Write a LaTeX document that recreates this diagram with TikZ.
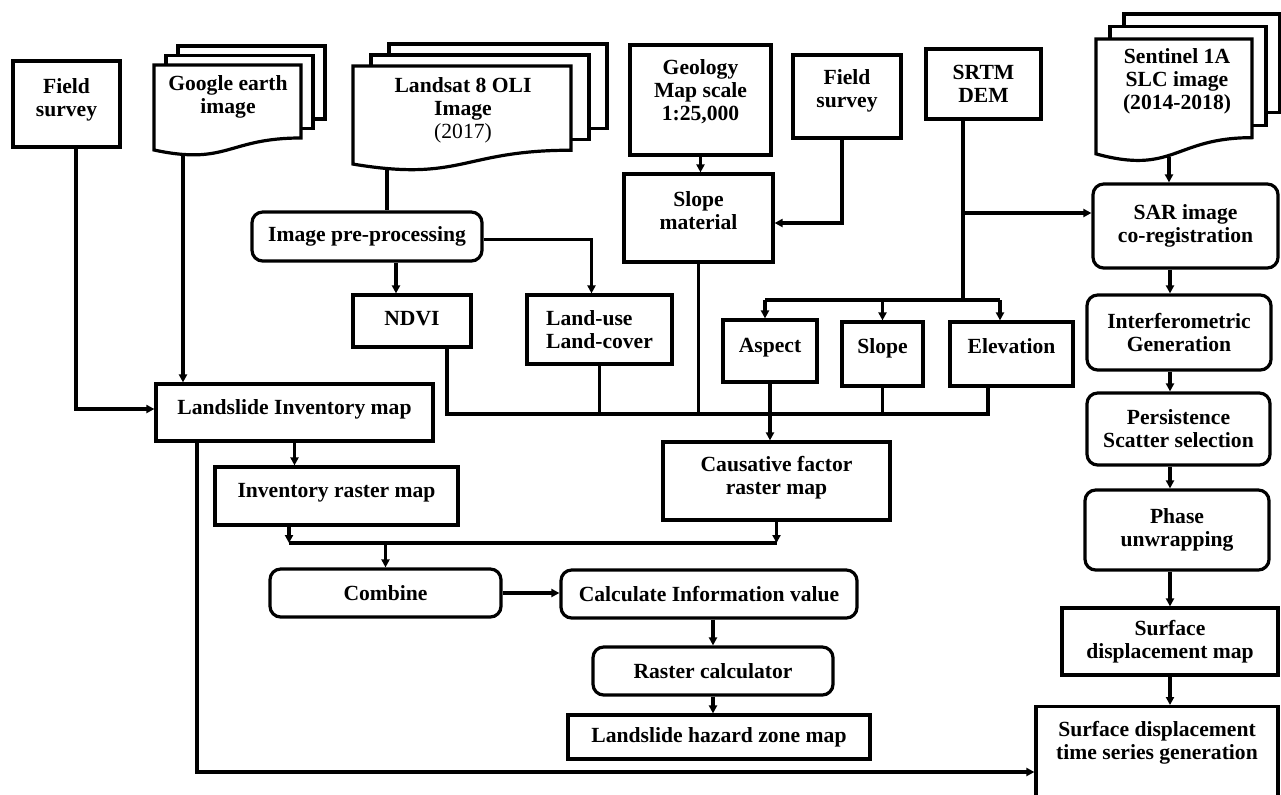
\documentclass[tikz,border=0pt]{standalone}
\usepackage{fontspec}
\setmainfont{Liberation Serif}
\usetikzlibrary{arrows.meta,calc}

\tikzset{
  sq/.style={draw,fill=white,align=center},
  rnd/.style={sq,rounded corners=8pt},
  arr/.style={-{Triangle[length=6pt,width=6pt]}}
}

\newcommand{\docpages}[6]{%
  \draw[fill=white] ({#1+2*#5},{#2+2*#6}) rectangle ++(#3,{0.802*#4});
  \draw[fill=white] ({#1+#5},{#2+#6}) rectangle ++(#3,{0.802*#4});
  \draw[fill=white] (#1,#2) -- ++(#3,0) -- ++(0,{0.802*#4})
    .. controls ({#1+0.5*#3},{#2+0.802*#4}) and ({#1+0.5*#3},{#2+1.1075*#4}) .. (#1,{#2+0.934*#4}) -- cycle;}
\newcommand{\lift}[2][3.5pt]{\raisebox{#1}[\height][\depth]{\begin{tabular}{@{}c@{}}#2\end{tabular}}}

\begin{document}
\begin{tikzpicture}[x=0.75pt,y=-0.75pt,line width=2.4pt,
    font=\bfseries\fontsize{16.2}{17.25}\selectfont]
      \useasboundingbox (0,0) rectangle (1281,794);
      \clip (0,0) rectangle (1281,794);
      \fill[white] (0,0) rectangle (1281,794);

      \docpages{154}{65}{147}{91}{12}{-9.5}
      \docpages{353}{66}{218}{105}{18}{-11}
      \docpages{1096}{39}{156}{123}{14}{-12.5}
      \node[align=center] (google) at (228,97) {Google earth\\image};
      \node[align=center] (landsat) at (463,110) {Landsat 8 OLI\\Image\\{\mdseries (2017)}};
      \node[align=center] (sentinel) at (1177,81) {Sentinel 1A\\SLC image\\(2014-2018)};
      \coordinate (googleS) at (183,154);
      \coordinate (landsatS) at (387,167);
      \coordinate (sentS) at (1169,157);

      \node[sq,minimum width=80.25pt,minimum height=64.5pt] (fieldA) at (66.5,104) {\lift[2.75pt]{Field\\survey}};
      \node[sq,minimum width=105.75pt,minimum height=82.5pt] (geology) at (700.5,100) {\lift[5pt]{Geology\\Map scale\\1:25,000}};
      \node[sq,minimum width=81pt,minimum height=62.25pt] (fieldB) at (847,96.5) {\lift{Field\\survey}};
      \node[sq,minimum width=86.25pt,minimum height=52.5pt] (srtm) at (983.5,84) {SRTM\\DEM};
      \node[rnd,minimum width=172.5pt,minimum height=36.75pt] (preproc) at (367,236.5) {Image pre-processing};
      \node[sq,minimum width=111.75pt,minimum height=66pt] (slopemat) at (698.5,218) {\lift{Slope\\material}};
      \node[rnd,minimum width=138.75pt,minimum height=63pt] (sar) at (1185.5,226) {SAR image\\co-registration};
      \node[sq,minimum width=88.5pt,minimum height=39pt] (ndvi) at (412,321) {\lift[0pt]{NDVI}};
      \node[sq,minimum width=108.75pt,minimum height=51.75pt,align=left] (landuse) at (599.5,329.5) {Land-use\\Land-cover};
      \node[sq,minimum width=70.5pt,minimum height=46.5pt] (aspect) at (770,351) {\lift[2pt]{Aspect}};
      \node[sq,minimum width=60.75pt,minimum height=48pt] (slope) at (882.5,354) {\lift{Slope}};
      \node[sq,minimum width=92.25pt,minimum height=48pt] (elev) at (1011.5,354) {\lift{Elevation}};
      \node[rnd,minimum width=138pt,minimum height=56.25pt] (interf) at (1179,332.5) {Interferometric\\Generation};
      \node[rnd,minimum width=137.25pt,minimum height=54pt] (persist) at (1178.5,429) {Persistence\\Scatter selection};
      \node[rnd,minimum width=138pt,minimum height=60pt] (phase) at (1177,530) {Phase\\unwrapping};
      \node[sq,minimum width=207.75pt,minimum height=42.75pt] (inventory) at (294.5,412.5) {\lift[2pt]{Landslide Inventory map}};
      \node[sq,minimum width=170.25pt,minimum height=58.5pt] (causative) at (776.5,481) {\lift[2pt]{Causative factor\\raster map}};
      \node[sq,minimum width=182.25pt,minimum height=43.5pt] (invraster) at (336.5,496) {\lift[2.5pt]{Inventory raster map}};
      \node[rnd,minimum width=173.25pt,minimum height=36pt] (combine) at (385.5,593) {Combine};
      \node[rnd,minimum width=222pt,minimum height=36pt] (calc) at (709,594) {Calculate Information value};
      \node[rnd,minimum width=180pt,minimum height=36pt] (rastercalc) at (713,671) {Raster calculator};
      \node[sq,minimum width=226.5pt,minimum height=33pt] (hazard) at (719,737) {Landslide hazard zone map};
      \node[sq,minimum width=162pt,minimum height=50.25pt] (surfmap) at (1170,641.5) {Surface\\displacement map};
      \node[sq,minimum width=181.5pt,inner ysep=11pt,anchor=north] (series) at (1157,705)
        {Surface displacement\\time series generation\\[40pt]\mbox{}};

      \coordinate (barL) at (447,414);
      \coordinate (barR) at (988,414);
      \coordinate (topL) at (765,300);
      \coordinate (topR) at (1000,300);
      \coordinate (demX) at (963,300);
      \coordinate (midL) at (289,543);
      \coordinate (midR) at (777,543);
      \coordinate (colX) at (1170,0);
      \coordinate (sarIn) at ($(sar.west)+(0,-13)$);

      \draw[arr] ($(fieldA.south)+(9.5,0)$) |- ($(inventory.west)+(0,-3.5)$);
      \draw[arr] (googleS) -- (googleS |- inventory.north);
      \draw (landsatS) -- (landsatS |- preproc.north);
      \draw[arr] ($(preproc.south)+(29,0)$) -- ($(ndvi.north)+(-16,0)$);
      \draw[arr] ($(preproc.east)+(0,3)$) -| ($(landuse.north)+(-8,0)$);
      \draw (ndvi.south -| barL) -- (barL) -- (barR) -- (barR |- elev.south);
      \draw (landuse.south) -- (landuse.south |- barL);
      \draw (slopemat.south) -- (slopemat.south |- barL);
      \draw (slope.south) -- (slope.south |- barL);
      \draw[arr] (aspect.south) -- (aspect.south |- causative.north);
      \draw[arr] (geology.south) -- (geology.south |- slopemat.north);
      \draw[arr] ($(fieldB.south)+(-5,0)$) |- ($(slopemat.east)+(0,5)$);
      \draw (srtm.south -| demX) -- (demX);
      \draw[arr] (sarIn -| demX) -- (sarIn);
      \draw (topL) -- (topR);
      \draw[arr] (topL) -- (topL |- aspect.north);
      \draw[arr] (slope.north |- topL) -- (slope.north);
      \draw[arr] (topR) -- (topR |- elev.north);
      \draw[arr] (sentS) -- (sentS |- sar.north);
      \draw[arr] (sar.south -| colX) -- (interf.north -| colX);
      \draw[arr] (interf.south -| colX) -- (persist.north -| colX);
      \draw[arr] (persist.south -| colX) -- (phase.north -| colX);
      \draw[arr] (phase.south -| colX) -- (surfmap.north -| colX);
      \draw[arr] (surfmap.south -| colX) -- (series.north -| colX);
      \draw[arr] ($(inventory.south)+(-97.5,0)$) |- ($(series.north west)+(0,67)$);
      \draw[arr] (inventory.south) -- (inventory.south |- invraster.north);
      \draw[arr] (invraster.south -| midL) -- (midL);
      \draw[arr] (causative.south) -- (causative.south |- midR);
      \draw (midL) -- (midR);
      \draw[arr] (combine.north |- midL) -- (combine.north);
      \draw[arr] (combine.east) -- (combine.east -| calc.west);
      \draw[arr] (calc.south -| rastercalc.north) -- (rastercalc.north);
      \draw[arr] (rastercalc.south) -- (rastercalc.south |- hazard.north);
\end{tikzpicture}
\end{document}
